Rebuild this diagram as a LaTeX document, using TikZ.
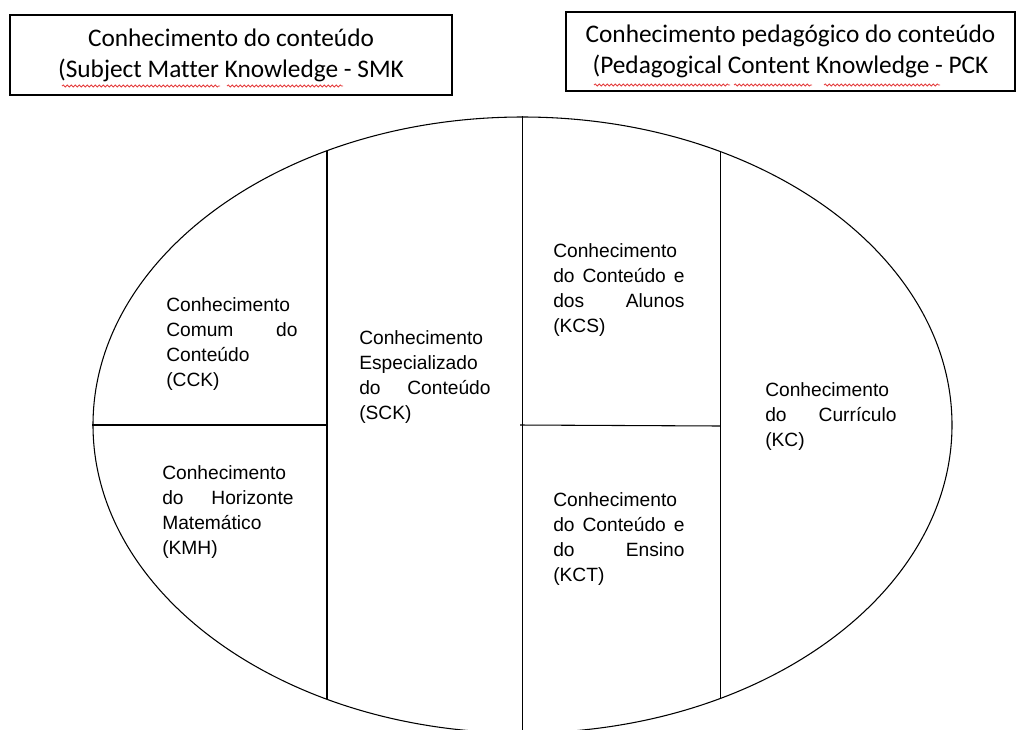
\documentclass[tikz,border=0pt]{standalone}
\usepackage{fontspec}
\setmainfont{Liberation Sans}
\newfontfamily\boxfont[Ligatures=NoCommon]{Carlito}
\usetikzlibrary{shapes.geometric,decorations.pathmorphing}

\definecolor{squigred}{RGB}{228,60,60}
\tikzset{
  topbox/.style={draw, line width=0.9pt, align=center, inner sep=0pt,
    font=\boxfont\fontsize{19}{23.25}\selectfont},
  cell/.style={anchor=base west, inner sep=0pt, text width=98.5pt, align=left,
    font=\fontsize{14.4}{18.75}\selectfont},
  divline/.style={line width=0.8pt},
  squig/.style={draw=squigred, line width=0.6pt, decorate,
    decoration={snake, amplitude=0.8pt, segment length=3pt}}
}

\begin{document}
\begin{tikzpicture}[x=0.75pt, y=-0.75pt]
  \useasboundingbox (0,0) rectangle (1024,729);

  % caixas do topo
  \node[topbox, minimum width=331.5pt, minimum height=60pt] (smk) at (231,55)
    {Conhecimento do conteúdo\\(Subject Matter Knowledge - SMK};
  \node[topbox, minimum width=336.75pt, minimum height=59.25pt] (pck) at (790.5,51.5)
    {Conhecimento pedagógico do conteúdo\\(Pedagogical Content Knowledge - PCK};

  % sublinhado do corretor
  \draw[squig] (62,86) -- (220,86);
  \draw[squig] (227,86) -- (343,86);
  \draw[squig] (594,85) -- (730,85);
  \draw[squig] (734,85) -- (812,85);
  \draw[squig] (824,85) -- (940,85);

  % elipse
  \node[draw, ellipse, divline, inner sep=0pt, minimum width=644.25pt,
    minimum height=462pt] (oval) at (522.5,425) {};

  % divisoes
  \begin{scope}
    \clip (oval.center) ellipse (322.125pt and 231pt);
    \draw[divline] (327,100) -- (327,760);
    \draw[divline] (720.5,100) -- (720.5,760);
  \end{scope}
  \draw[divline] (oval.north) -- (oval.south);
  \draw[divline] (oval.west) -- (327,425);
  \draw[divline] (520,425) -- (720.5,426);

  % textos
  \node[cell] (cck) at (166,311)
    {Conhecimento\\Comum\hfill do\\Conteúdo\\(CCK)};
  \node[cell] (kmh) at (162,479)
    {Conhecimento\\do\hfill Horizonte\\Matemático\\(KMH)};
  \node[cell] (sck) at (359,344)
    {Conhecimento\\Especializado\\do\hfill Conteúdo\\(SCK)};
  \node[cell] (kcs) at (553,257)
    {Conhecimento\\do\hfill Conteúdo\hfill e\\dos\hfill Alunos\\(KCS)};
  \node[cell] (kct) at (553,506)
    {Conhecimento\\do\hfill Conteúdo\hfill e\\do\hfill Ensino\\(KCT)};
  \node[cell] (kc) at (765,396)
    {Conhecimento\\do\hfill Currículo\\(KC)};
\end{tikzpicture}
\end{document}
